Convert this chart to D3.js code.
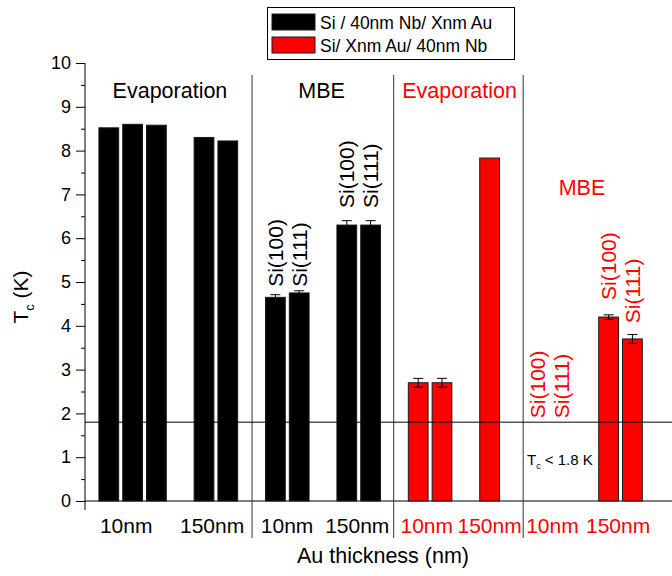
<!DOCTYPE html>
<html>
<head>
<meta charset="utf-8">
<script src="https://cdn.jsdelivr.net/npm/d3@7"></script>
<style>
  body { margin: 0; background: #fff; }
  svg { display: block; font-family: "Liberation Sans", Arial, sans-serif; }
</style>
</head>
<body>
<svg id="chart" width="672" height="576"></svg>
<script>
const seriesNames = ["Si / 40nm Nb/ Xnm Au", "Si/ Xnm Au/ 40nm Nb"];
const seriesColors = ["#000000", "#FF0000"];

// bar slots along the x axis, one Tc value per bar
const barPositions = [1, 2, 3, 5, 6, 8, 9, 11, 12, 14, 15, 17, 22, 23];
const tcValues = [8.52, 8.6, 8.58, 8.3, 8.22, 4.65, 4.75, 6.3, 6.3, 2.7, 2.7, 7.83, 4.2, 3.7];
const tcErrors = [0, 0, 0, 0, 0, 0.06, 0.05, 0.1, 0.1, 0.1, 0.1, 0, 0.05, 0.1];
const barSeries = [0, 0, 0, 0, 0, 0, 0, 0, 0, 1, 1, 1, 1, 1];

const tickPositions = [1.73, 5.34, 8.49, 11.44, 14.36, 17.0, 19.64, 22.4];
const tickLabels = ["10nm", "150nm", "10nm", "150nm", "10nm", "150nm", "10nm", "150nm"];
const tickSeries = [0, 0, 0, 0, 1, 1, 1, 1];

const separatorPositions = [7.02, 12.97, 18.41];

const groupTitles = ["Evaporation", "MBE", "Evaporation", "MBE"];
const groupTitleX = [3.57, 9.94, 15.74, 20.88];
const groupTitleY = [9.2, 9.2, 9.2, 6.99];
const groupSeries = [0, 0, 1, 1];

const substrateLabels = ["Si(100)", "Si(111)", "Si(100)", "Si(111)", "Si(100)", "Si(111)", "Si(100)", "Si(111)"];
const substratePositions = [8, 9, 11, 12, 19, 20, 22, 23];
const substrateBase = [4.89, 4.89, 6.69, 6.69, 1.89, 1.89, 4.59, 4.06];
const substrateSeries = [0, 0, 0, 0, 1, 1, 1, 1];

const threshold = 1.8;
const majorTicks = [0, 1, 2, 3, 4, 5, 6, 7, 8, 9, 10];
const minorTicks = [0.5, 1.5, 2.5, 3.5, 4.5, 5.5, 6.5, 7.5, 8.5, 9.5];

const svg = d3.select("#chart");
const fontSize = 21;

const x = d3.scaleLinear().domain([0, 25]).range([85, 680]);
const y = d3.scaleLinear().domain([0, 10]).range([501, 63]);
const barWidth = (x(1) - x(0)) * 0.83;

// y axis, major + minor ticks
const yAxis = svg.append("g").attr("transform", `translate(${x(0)},0)`);
yAxis.call(d3.axisLeft(y).tickValues(majorTicks).tickSize(9).tickPadding(5).tickFormat(d3.format("d")));
yAxis.select(".domain").remove();
yAxis.selectAll("text").style("font-size", "18px").attr("fill", "#000");
const yMinor = svg.append("g").attr("transform", `translate(${x(0)},0)`);
yMinor.call(d3.axisLeft(y).tickValues(minorTicks).tickSize(4).tickFormat(""));
yMinor.select(".domain").remove();
svg.selectAll(".tick line").attr("stroke", "#000");

svg.append("line")
  .attr("x1", x(0)).attr("x2", x(0))
  .attr("y1", y(10)).attr("y2", y(0) + 9)
  .attr("stroke", "#000");
svg.append("line")
  .attr("x1", x(0)).attr("x2", 672)
  .attr("y1", y(0)).attr("y2", y(0))
  .attr("stroke", "#000");

// group separators
svg.selectAll(".sep")
  .data(separatorPositions)
  .enter()
  .append("line")
  .attr("x1", (d) => x(d)).attr("x2", (d) => x(d))
  .attr("y1", 75).attr("y2", 538)
  .attr("stroke", "#333");

// bars
const bars = barPositions.map((p, i) => ({
  pos: p, value: tcValues[i], err: tcErrors[i], series: barSeries[i],
}));
svg.selectAll(".bar")
  .data(bars)
  .enter()
  .append("rect")
  .attr("x", (d) => x(d.pos) - barWidth / 2)
  .attr("y", (d) => y(d.value))
  .attr("width", barWidth)
  .attr("height", (d) => y(0) - y(d.value))
  .attr("fill", (d) => seriesColors[d.series])
  .attr("stroke", "#1a1a1a")
  .attr("stroke-width", 1);

// threshold line Tc = 1.8 K
svg.append("line")
  .attr("x1", x(0)).attr("x2", 672)
  .attr("y1", y(threshold)).attr("y2", y(threshold))
  .attr("stroke", "#000");

// error bars
const errs = bars.filter((d) => d.err > 0);
const eb = svg.selectAll(".err").data(errs).enter().append("g").attr("stroke", "#000");
eb.append("line")
  .attr("x1", (d) => x(d.pos)).attr("x2", (d) => x(d.pos))
  .attr("y1", (d) => y(d.value - d.err)).attr("y2", (d) => y(d.value + d.err));
eb.append("line")
  .attr("x1", (d) => x(d.pos) - 5).attr("x2", (d) => x(d.pos) + 5)
  .attr("y1", (d) => y(d.value + d.err)).attr("y2", (d) => y(d.value + d.err));
eb.append("line")
  .attr("x1", (d) => x(d.pos) - 5).attr("x2", (d) => x(d.pos) + 5)
  .attr("y1", (d) => y(d.value - d.err)).attr("y2", (d) => y(d.value - d.err));

// x tick labels
svg.selectAll(".xlab")
  .data(tickLabels)
  .enter()
  .append("text")
  .attr("x", (d, i) => x(tickPositions[i]))
  .attr("y", 533)
  .attr("text-anchor", "middle")
  .style("font-size", fontSize + "px")
  .attr("fill", (d, i) => seriesColors[tickSeries[i]])
  .text((d) => d);

// group titles
svg.selectAll(".gtitle")
  .data(groupTitles)
  .enter()
  .append("text")
  .attr("x", (d, i) => x(groupTitleX[i]))
  .attr("y", (d, i) => y(groupTitleY[i]))
  .attr("text-anchor", "middle")
  .style("font-size", "21.5px")
  .attr("fill", (d, i) => seriesColors[groupSeries[i]])
  .text((d) => d);

// rotated substrate labels
svg.selectAll(".sub")
  .data(substrateLabels)
  .enter()
  .append("text")
  .attr("transform", (d, i) => `translate(${x(substratePositions[i])},${y(substrateBase[i])}) rotate(-90)`)
  .attr("dy", "0.36em")
  .attr("text-anchor", "start")
  .style("font-size", fontSize + "px")
  .attr("fill", (d, i) => seriesColors[substrateSeries[i]])
  .text((d) => d);

// note under the threshold line
const note = svg.append("text")
  .attr("x", 527)
  .attr("y", 465)
  .style("font-size", "15px")
  .attr("fill", "#000");
note.append("tspan").text("T");
note.append("tspan").attr("dy", 4).style("font-size", "9px").text("c");
note.append("tspan").attr("dy", -4).text(" < 1.8 K");

// axis titles
const yTitle = svg.append("text")
  .attr("transform", "translate(28,297) rotate(-90)")
  .attr("text-anchor", "middle")
  .style("font-size", fontSize + "px")
  .attr("fill", "#000");
yTitle.append("tspan").text("T");
yTitle.append("tspan").attr("dy", 6).style("font-size", "13px").text("c");
yTitle.append("tspan").attr("dy", -6).text(" (K)");

svg.append("text")
  .attr("x", 383)
  .attr("y", 563)
  .attr("text-anchor", "middle")
  .style("font-size", "21.5px")
  .attr("fill", "#000")
  .text("Au thickness (nm)");

// legend box
const legend = svg.append("g");
legend.append("rect")
  .attr("x", 267.5).attr("y", 7.5)
  .attr("width", 247).attr("height", 52)
  .attr("fill", "#fff")
  .attr("stroke", "#000");
const items = legend.selectAll(".item")
  .data(seriesNames)
  .enter()
  .append("g")
  .attr("transform", (d, i) => `translate(272,${14 + i * 23})`);
items.append("rect")
  .attr("width", 43).attr("height", 16)
  .attr("fill", (d, i) => seriesColors[i])
  .attr("stroke", "#1a1a1a");
items.append("text")
  .attr("x", 48)
  .attr("y", 14.5)
  .style("font-size", "17.5px")
  .attr("fill", "#000")
  .text((d) => d);
</script>
</body>
</html>
